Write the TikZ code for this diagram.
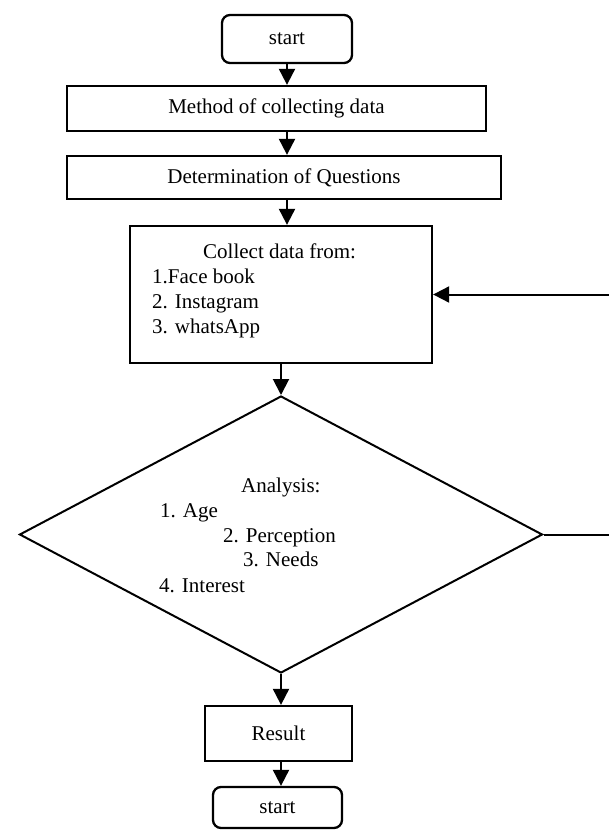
\documentclass[tikz,border=0pt]{standalone}
\usepackage{fontspec}
\setmainfont{Liberation Serif}
\usetikzlibrary{arrows.meta,shapes.geometric}
\begin{document}
\begin{tikzpicture}[x=1pt,y=-1pt,
  font=\fontsize{21}{25}\selectfont,
  box/.style={draw, line width=2.3pt, inner sep=0pt},
  rbox/.style={box, rounded corners=8pt},
  txt/.style={anchor=base west, inner sep=0pt},
  arr/.style={-{Triangle[length=16pt,width=16pt]}, line width=2pt},
  ln/.style={line width=2pt}]
\useasboundingbox (0,0) rectangle (609,830);
\node[rbox, minimum width=130pt, minimum height=48pt] (s1) at (287,39) {start};
\node[box, minimum width=419pt, minimum height=45pt] (m) at (276.5,108.5) {Method of collecting data};
\node[box, minimum width=434pt, minimum height=43pt] (q) at (284,177.5) {Determination of Questions};
\node[box, minimum width=302pt, minimum height=137pt] (c) at (281,294.5) {};
\node[txt] (c0) at (203,258) {Collect data from:};
\node[txt] (c1) at (152,283) {1.Face book};
\node[txt] (c2) at (152,308) {2. Instagram};
\node[txt] (c3) at (152,333) {3. whatsApp};
\node[diamond, draw, line width=2pt, inner sep=0pt, minimum width=523pt, minimum height=277pt] (d) at (281,534.5) {};
\node[txt] (a0) at (241,492) {Analysis:};
\node[txt] (a1) at (160,517) {1. Age};
\node[txt] (a2) at (223,542) {2. Perception};
\node[txt] (a3) at (243,566) {3. Needs};
\node[txt] (a4) at (159,592) {4. Interest};
\node[box, minimum width=147pt, minimum height=55pt] (r) at (278.5,733.5) {Result};
\node[rbox, minimum width=129pt, minimum height=41pt] (s2) at (277.5,807.5) {start};
\coordinate (e1) at (609,294.5);
\coordinate (e2) at (609,534.5);
\draw[arr] (s1.south) -- (s1.south |- m.north);
\draw[arr] (m.south -| s1.south) -- (q.north -| s1.south);
\draw[arr] (q.south -| s1.south) -- (c.north -| s1.south);
\draw[arr] (c.south) -- (c.south |- d.north);
\draw[arr] (e1) -- (c.east);
\draw[ln] (d.east) -- (e2);
\draw[arr] (d.south) -- (r.north -| d.south);
\draw[arr] (r.south -| d.south) -- (s2.north -| d.south);
\end{tikzpicture}
\end{document}
